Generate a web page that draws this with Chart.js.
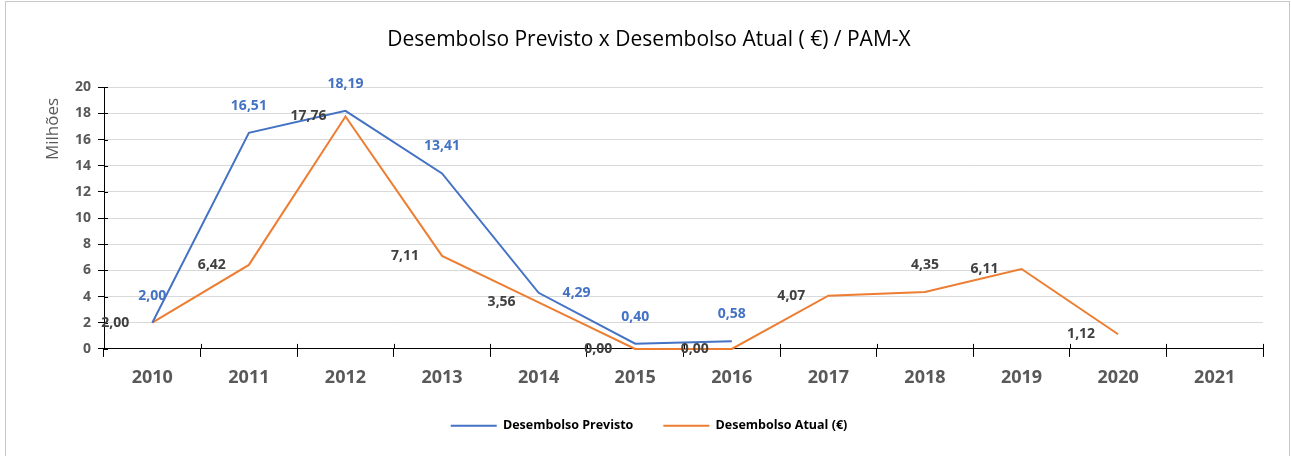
<!DOCTYPE html>
<html>
<head>
<meta charset="utf-8">
<script src="https://cdn.jsdelivr.net/npm/chart.js@4.4.1/dist/chart.umd.min.js"></script>
<style>
  html, body { margin: 0; padding: 0; background: #fff; overflow: hidden; }
  #frame { position: absolute; left: 5px; top: 1px; width: 1283px; height: 500px; border: 1px solid #c8c8c8; }
  #wrap { position: absolute; left: 0; top: 0; width: 1291px; height: 456px; }
</style>
</head>
<body>
<div id="frame"></div>
<div id="wrap"><canvas id="desembolsoChart"></canvas></div>
<script>
// chart data
const years = ['2010', '2011', '2012', '2013', '2014', '2015', '2016', '2017', '2018', '2019', '2020', '2021'];
const desembolsoPrevisto = [2.00, 16.51, 18.19, 13.41, 4.29, 0.40, 0.58, null, null, null, null, null];
const desembolsoAtual = [2.00, 6.42, 17.76, 7.11, 3.56, 0.00, 0.00, 4.07, 4.35, 6.11, 1.12, null];
const yTicks = [0, 2, 4, 6, 8, 10, 12, 14, 16, 18, 20];

// where each data label sits relative to its point (like Excel's label positions)
const previstoLabelPos = ['above', 'above', 'above', 'above', 'right', 'above', 'above'];
const atualLabelPos = ['left', 'left', 'left', 'left', 'left', 'left', 'left', 'left', 'above', 'left', 'left'];

const FONT = '"Open Sans", "Noto Sans", sans-serif';

function fmt(v) {
    return v.toFixed(2).replace('.', ',');
}

// draws value labels next to the points
const valueLabels = {
    id: 'valueLabels',
    afterDraw(chart) {
        const ctx = chart.ctx;
        ctx.save();
        ctx.font = 'bold 14px ' + FONT;
        ctx.textAlign = 'center';
        ctx.textBaseline = 'middle';
        chart.data.datasets.forEach((ds, di) => {
            const meta = chart.getDatasetMeta(di);
            const positions = di === 0 ? previstoLabelPos : atualLabelPos;
            ctx.fillStyle = di === 0 ? '#4472C4' : '#404040';
            meta.data.forEach((pt, i) => {
                const v = ds.data[i];
                if (v === null || v === undefined) return;
                let x = pt.x, y = pt.y;
                const pos = positions[i] || 'above';
                if (pos === 'above') y -= 27;
                if (pos === 'left') x -= 37;
                if (pos === 'right') x += 38;
                ctx.fillText(fmt(v), x, y);
            });
        });
        ctx.restore();
    }
};

// small tick marks crossing the axes like in Excel, plus the y axis title near the top
const axisExtras = {
    id: 'axisExtras',
    afterDatasetsDraw(chart) {
        const ctx = chart.ctx;
        const xs = chart.scales.x;
        const ys = chart.scales.y;
        ctx.save();
        ctx.strokeStyle = '#000';
        ctx.lineWidth = 1;
        const half = (xs.getPixelForValue(1) - xs.getPixelForValue(0)) / 2;
        ctx.beginPath();
        for (let i = 0; i <= years.length; i++) {
            const px = Math.round(xs.getPixelForValue(i) - half) + 0.5;
            ctx.moveTo(px, ys.bottom - 5);
            ctx.lineTo(px, ys.bottom);
        }
        yTicks.forEach(t => {
            const py = Math.round(ys.getPixelForValue(t)) + 0.5;
            ctx.moveTo(xs.left, py);
            ctx.lineTo(xs.left + 4, py);
        });
        ctx.stroke();

        // "Milhões" rotated, sitting in the upper part of the axis
        ctx.translate(53, 129);
        ctx.rotate(-Math.PI / 2);
        ctx.font = '17px ' + FONT;
        ctx.fillStyle = '#595959';
        ctx.textAlign = 'center';
        ctx.textBaseline = 'middle';
        ctx.fillText('Milhões', 0, 0);
        ctx.restore();
    }
};

function createDesembolsoChart() {
    const ctx = document.getElementById('desembolsoChart').getContext('2d');

    new Chart(ctx, {
        type: 'line',
        data: {
            labels: years,
            datasets: [{
                label: 'Desembolso Previsto',
                data: desembolsoPrevisto,
                borderColor: '#4472C4',
                backgroundColor: '#4472C4',
                borderWidth: 2,
                pointRadius: 0,
                tension: 0,
                clip: false
            }, {
                label: 'Desembolso Atual (€)',
                data: desembolsoAtual,
                borderColor: '#ED7D31',
                backgroundColor: '#ED7D31',
                borderWidth: 2,
                pointRadius: 0,
                tension: 0,
                clip: false
            }]
        },
        options: {
            responsive: true,
            maintainAspectRatio: false,
            animation: false,
            layout: { padding: { left: 35, right: 28, top: 0, bottom: 14 } },
            scales: {
                x: {
                    offset: true,
                    afterFit(scale) {
                        scale.height -= 9;
                    },
                    grid: {
                        offset: true,
                        drawOnChartArea: false,
                        tickLength: 8,
                        tickColor: '#000'
                    },
                    border: { color: '#000', width: 1 },
                    ticks: {
                        color: '#595959',
                        padding: 10,
                        font: { family: FONT, size: 18, weight: 'bold' }
                    }
                },
                y: {
                    min: 0,
                    max: 20,
                    afterBuildTicks(scale) {
                        scale.ticks = yTicks.map(v => ({ value: v }));
                    },
                    afterFit(scale) {
                        scale.width = 69;
                    },
                    grid: {
                        color: '#d9d9d9',
                        tickLength: 6,
                        tickColor: '#000'
                    },
                    border: { color: '#000', width: 1 },
                    ticks: {
                        color: '#595959',
                        padding: 7,
                        font: { family: FONT, size: 14, weight: 'bold' }
                    }
                }
            },
            plugins: {
                title: {
                    display: true,
                    text: 'Desembolso Previsto x Desembolso Atual ( €) / PAM-X',
                    color: '#000',
                    padding: { top: 27, bottom: 35 },
                    font: { family: FONT, size: 21, weight: 'normal' }
                },
                legend: {
                    position: 'bottom',
                    labels: {
                        usePointStyle: true,
                        pointStyle: 'line',
                        pointStyleWidth: 46,
                        boxHeight: 12,
                        padding: 30,
                        color: '#000',
                        font: { family: FONT, size: 12.5, weight: 'bold' }
                    }
                },
                tooltip: { enabled: false }
            }
        },
        plugins: [axisExtras, valueLabels]
    });
}

window.onload = function() {
    createDesembolsoChart();
};
</script>
</body>
</html>
